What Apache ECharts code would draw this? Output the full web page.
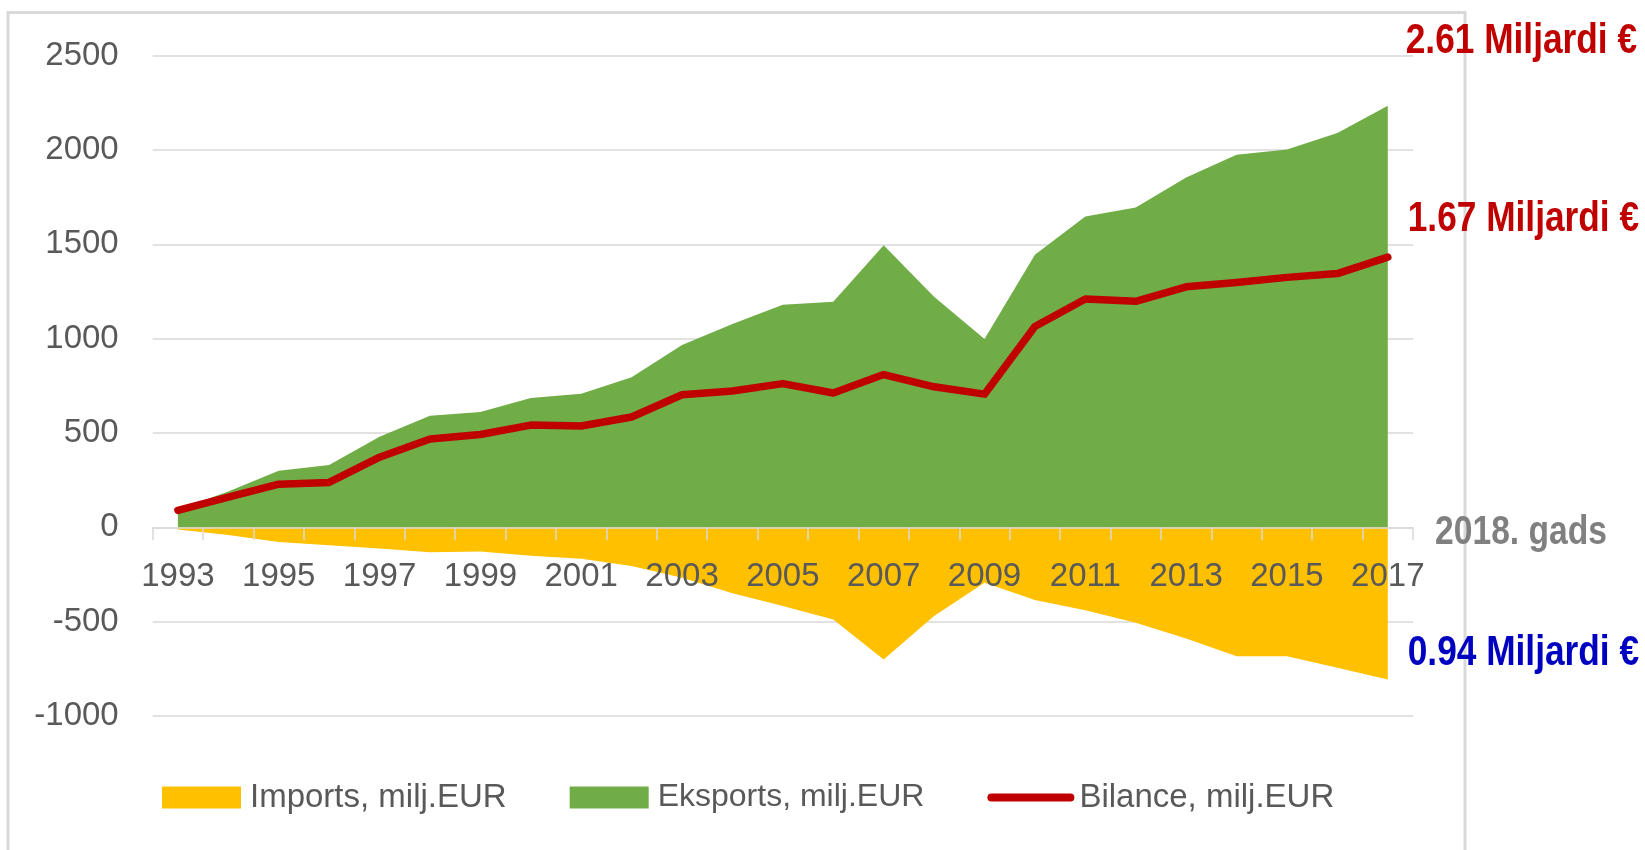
<!DOCTYPE html>
<html>
<head>
<meta charset="utf-8">
<script src="https://cdn.jsdelivr.net/npm/echarts@6/dist/echarts.min.js"></script>
<style>
html,body{margin:0;padding:0;background:#ffffff;}
#chart{width:1645px;height:850px;}
</style>
</head>
<body>
<div id="chart"></div>
<script>
// ---- data ----
const years = ['1993','1994','1995','1996','1997','1998','1999','2000','2001','2002','2003','2004','2005',
               '2006','2007','2008','2009','2010','2011','2012','2013','2014','2015','2016','2017'];
const importsValues = [-12, -40, -78, -95, -112, -132, -128, -150, -167, -205, -267, -350, -417,
                       -489, -700, -470, -294, -385, -440, -506, -589, -683, -683, -744, -806];
const exportsValues = [95, 190, 300, 330, 480, 592, 612, 685, 708, 795, 967, 1078, 1180,
                       1196, 1495, 1222, 998, 1445, 1648, 1696, 1855, 1975, 2003, 2090, 2235];
const balanceValues = [90, 160, 229, 238, 372, 468, 492, 542, 537, 585, 703, 723, 762,
                       712, 810, 745, 706, 1065, 1210, 1198, 1275, 1298, 1325, 1345, 1432];
const seriesNames = ['Imports, milj.EUR', 'Eksports, milj.EUR', 'Bilance, milj.EUR'];
const yMin = -1000, yMax = 2500, yStep = 500;
const notes = ['2.61 Miljardi €', '1.67 Miljardi €', '2018. gads', '0.94 Miljardi €'];

// ---- styles ----
const C_IMP = '#FFC000', C_EXP = '#70AD47', C_BAL = '#C00000';
const FONT = '"Liberation Sans", Arial, sans-serif';
const GRID = '#D9D9D9', TXT = '#595959';

const GRID_TOP = 55.7, GRID_BOTTOM = 134, H = 850;
const plotH = H - GRID_TOP - GRID_BOTTOM;
const zeroOffset = plotH * (0 - yMin) / (yMax - yMin);

const chart = echarts.init(document.getElementById('chart'), null, {renderer: 'canvas'});

function note(text, xRight, yMid, color, size) {
  return {
    type: 'text', x: xRight, y: yMid, scaleX: 0.82, z: 10, silent: true,
    style: {text: text, fill: color, font: 'bold ' + size + 'px "Liberation Sans", Arial, sans-serif',
            textAlign: 'right', textVerticalAlign: 'middle'}
  };
}

const option = {
  animation: false,
  backgroundColor: '#ffffff',
  grid: {left: 152.7, right: 232, top: GRID_TOP, bottom: GRID_BOTTOM, containLabel: false},
  legend: {
    left: 162, top: 781, padding: 0,
    itemWidth: 79, itemHeight: 22, itemGap: 63,
    textStyle: {fontSize: 33, color: TXT, fontFamily: FONT, padding: [0, 0, 0, 4]},
    data: [
      {name: seriesNames[0], icon: 'rect'},
      {name: seriesNames[1], icon: 'rect', textStyle: {fontSize: 32}},
      {name: seriesNames[2], itemStyle: {opacity: 0},
       lineStyle: {width: 8, cap: 'round', color: C_BAL}}
    ]
  },
  xAxis: {
    type: 'category', data: years, boundaryGap: true, z: 5,
    position: 'bottom', offset: -zeroOffset,
    axisLine: {show: true, onZero: false, lineStyle: {color: GRID, width: 1.5}},
    axisTick: {show: true, interval: 0, length: 13, lineStyle: {color: GRID, width: 1.5}},
    axisLabel: {interval: 1, fontSize: 33, color: TXT, fontFamily: FONT, margin: 33},
    splitLine: {show: false}
  },
  yAxis: {
    type: 'value', min: yMin, max: yMax, interval: yStep,
    axisLine: {show: false}, axisTick: {show: false},
    axisLabel: {fontSize: 33, color: TXT, fontFamily: FONT, margin: 34, formatter: v => String(v)},
    splitLine: {show: true, lineStyle: {color: GRID, width: 1.5}}
  },
  series: [
    {
      name: seriesNames[0], type: 'line', data: importsValues, symbol: 'none',
      itemStyle: {color: C_IMP}, lineStyle: {width: 0}, areaStyle: {color: C_IMP, opacity: 1}, z: 2
    },
    {
      name: seriesNames[1], type: 'line', data: exportsValues, symbol: 'none',
      itemStyle: {color: C_EXP}, lineStyle: {width: 0}, areaStyle: {color: C_EXP, opacity: 1}, z: 2
    },
    {
      name: seriesNames[2], type: 'line', data: balanceValues, symbol: 'none',
      itemStyle: {color: C_BAL}, lineStyle: {color: C_BAL, width: 7.5, cap: 'round', join: 'round'}, z: 4
    }
  ],
  graphic: [
    {type: 'polyline', z: 0, silent: true,
     shape: {points: [[8, 850], [8, 12.5], [1465, 12.5], [1465, 850]]},
     style: {stroke: '#D9D9D9', lineWidth: 3, fill: null}},
    note(notes[0], 1637, 41.5, '#C00000', 43),
    note(notes[1], 1639, 219, '#C00000', 43),
    note(notes[2], 1607, 532.5, '#808080', 41),
    note(notes[3], 1639, 653, '#0000C0', 43)
  ]
};
chart.setOption(option);
</script>
</body>
</html>
